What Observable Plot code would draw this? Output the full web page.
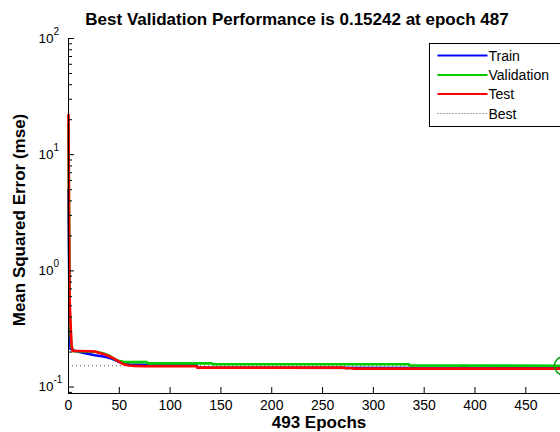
<!DOCTYPE html>
<html><head><meta charset="utf-8">
<script src="https://cdn.jsdelivr.net/npm/d3@7"></script>
<script src="https://cdn.jsdelivr.net/npm/@observablehq/plot@0.6"></script>
<style>
html,body{margin:0;padding:0;overflow:hidden;background:#fff;width:560px;height:432px;}
#wrap{position:relative;width:560px;height:432px;overflow:hidden;font-family:"Liberation Sans",Arial,sans-serif;}
#wrap > svg{position:absolute;left:0;top:0;max-width:none !important;}
</style></head><body><div id="wrap"></div>
<script>
// ---- data ----
const trainEpochs = [0,1,2,7,13,26,36,43,48,53,60,80,126,127,384,385,392,393,414,415,437,438,493];
const trainValues = [5,0.45,0.213,0.204,0.198,0.188,0.182,0.175,0.167,0.161,0.156,0.155,0.154,0.147,0.146,0.149,0.149,0.146,0.146,0.149,0.149,0.146,0.146];

const validEpochs = [0,1,2,3,5,20,28,35,40,44,48,55,77,78,141,142,335,336,487,493];
const validValues = [18,0.5,0.3,0.22,0.204,0.202,0.2,0.194,0.187,0.177,0.169,0.164,0.164,0.16,0.16,0.157,0.157,0.1535,0.15242,0.15242];

const testEpochs = [0,1,2,3,4,10,20,26,30,35,40,44,48,53,58,65,75,126,127,272,273,279,281,493];
const testValues = [22,0.6,0.35,0.23,0.205,0.204,0.203,0.202,0.197,0.192,0.184,0.177,0.169,0.159,0.154,0.152,0.151,0.151,0.147,0.147,0.145,0.145,0.144,0.144];

const bestEpoch = 487;
const bestPerf = 0.15242;
const maxEpoch = 493;

const xTicks = [0,50,100,150,200,250,300,350,400,450];
const yMajor = [0.1,1,10,100];
const yExps = ["-1","0","1","2"];
const yMinor = [0.09,0.2,0.3,0.4,0.5,0.6,0.7,0.8,0.9,2,3,4,5,6,7,8,9,20,30,40,50,60,70,80,90];
const yDomain = [0.088, 100];

const titleText = "Best Validation Performance is 0.15242 at epoch 487";
const xLabel = "493 Epochs";
const yLabel = "Mean Squared Error (mse)";
const seriesNames = ["Train","Validation","Test","Best"];
const colors = {Train:"#0000ff", Validation:"#00cc00", Test:"#ff0000", Best:"#555555", circle:"#00a000"};

// ---- layout ----
const W = 600, H = 432;
const M = {top:38, right:31, bottom:39, left:68};
const fw = W - M.left - M.right, fh = H - M.top - M.bottom;
const FONT = "'Liberation Sans', Arial, sans-serif";

const rows = (ep, vals) => ep.map((e,i)=>({epoch:e, mse:vals[i]}));
const train = rows(trainEpochs, trainValues);
const valid = rows(validEpochs, validValues);
const test = rows(testEpochs, testValues);

const chart = Plot.plot({
  width: W, height: H,
  marginTop: M.top, marginRight: M.right, marginBottom: M.bottom, marginLeft: M.left,
  x: {domain:[0, maxEpoch], axis:null},
  y: {type:"log", domain:yDomain, axis:null},
  style: {fontFamily: FONT, background:"transparent", color:"#000", overflow:"visible", maxWidth:"none"},
  marks: [
    Plot.ruleY([bestPerf], {x1:0, x2:maxEpoch, stroke:colors.Best, strokeWidth:1, strokeDasharray:"1,3"}),
    Plot.line(train, {x:"epoch", y:"mse", stroke:colors.Train, strokeWidth:2.6}),
    Plot.line(valid, {x:"epoch", y:"mse", stroke:colors.Validation, strokeWidth:2.6}),
    Plot.line(test, {x:"epoch", y:"mse", stroke:colors.Test, strokeWidth:2.6}),
    Plot.dot([{epoch:bestEpoch, mse:bestPerf}], {x:"epoch", y:"mse", r:9, stroke:colors.circle, strokeWidth:1.5, fill:"none"}),
    Plot.ruleX([0], {stroke:"#000", strokeWidth:1}),
    Plot.ruleY([yDomain[0]], {stroke:"#000", strokeWidth:1}),
    Plot.tickX(xTicks, {x:d=>d, insetTop: fh - 6, stroke:"#000"}),
    Plot.tickY(yMajor, {y:d=>d, insetRight: fw - 6, stroke:"#000"}),
    Plot.tickY(yMinor, {y:d=>d, insetRight: fw - 4, stroke:"#000"}),
    Plot.text(xTicks, {x:d=>d, y:yDomain[0], dy:12, text:d=>String(d), fontSize:14, fill:"#000"}),
    Plot.text(yMajor, {x:0, y:d=>d, dx:-15, text:()=>"10", textAnchor:"end", fontSize:13.5, fill:"#000"}),
    Plot.text(yMajor, {x:0, y:d=>d, dx:-15, dy:-7, text:(d,i)=>yExps[i], textAnchor:"start", fontSize:10, fill:"#000"})
  ]
});
chart.style.maxWidth = "none";
chart.style.width = W + "px";
chart.style.height = H + "px";
document.getElementById("wrap").appendChild(chart);

// ---- overlay: title, axis labels, legend ----
const ov = d3.select("#wrap").append("svg")
  .attr("width", 560).attr("height", 432)
  .style("font-family", FONT);

ov.append("text").attr("x", 297).attr("y", 25).attr("text-anchor","middle")
  .attr("font-size", 17).attr("font-weight","bold").text(titleText);
ov.append("text").attr("x", 319).attr("y", 428).attr("text-anchor","middle")
  .attr("font-size", 17).attr("font-weight","bold").text(xLabel);
ov.append("text").attr("transform","translate(25,220) rotate(-90)").attr("text-anchor","middle")
  .attr("font-size", 17).attr("font-weight","bold").text(yLabel);

const lg = ov.append("g").attr("transform","translate(429.5,43.5)");
lg.append("rect").attr("width", 200).attr("height", 83).attr("fill","#fff").attr("stroke","#000").attr("stroke-width",1);
const rowY = [12, 31.5, 50.5, 70];
seriesNames.forEach((name, i) => {
  const y = rowY[i];
  lg.append("line").attr("x1", 8).attr("x2", 58).attr("y1", y).attr("y2", y)
    .attr("stroke", colors[name]).attr("stroke-width", name === "Best" ? 1 : 2)
    .attr("stroke-dasharray", name === "Best" ? "1,2" : null);
  lg.append("text").attr("x", 59).attr("y", y + 5).attr("font-size", 14).text(name);
});
</script>
</body></html>
